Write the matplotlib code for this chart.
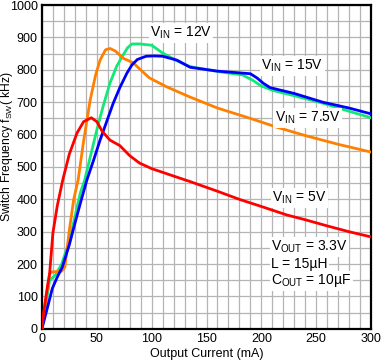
import matplotlib
matplotlib.use("Agg")
import matplotlib.pyplot as plt
from matplotlib.ticker import MultipleLocator

plt.rcParams['font.family'] = ['Liberation Sans', 'DejaVu Sans']
plt.rcParams['mathtext.fontset'] = 'custom'
plt.rcParams['mathtext.rm'] = 'Liberation Sans'
plt.rcParams['mathtext.it'] = 'Liberation Sans'

# Data (Output current mA, switching frequency kHz)
x_5v = [0, 2, 5, 7, 10, 14, 19, 25, 32, 38, 45, 50, 55, 62, 71, 80, 89, 100, 120, 135, 160, 180, 200, 223, 240, 260, 280, 300]
y_5v = [0, 60, 130, 170, 296, 380, 460, 540, 605, 640, 652, 640, 610, 583, 566, 535, 512, 495, 472, 455, 425, 400, 378, 352, 337, 318, 300, 284]

x_75v = [0, 4, 7, 9, 18, 21, 25, 29, 33, 38, 44, 49, 53, 58, 62, 67, 74, 83, 90, 98, 114, 135, 160, 190, 214, 240, 270, 300]
y_75v = [0, 100, 170, 176, 178, 192, 305, 400, 460, 580, 707, 785, 830, 862, 866, 858, 836, 822, 800, 775, 747, 716, 682, 650, 623, 597, 570, 546]

x_12v = [0, 3, 7, 12, 18, 25, 30, 35, 39, 44, 50, 56, 62, 68, 73, 78, 82, 89, 100, 110, 123, 135, 160, 183, 192, 200, 211, 230, 256, 280, 300]
y_12v = [0, 60, 150, 165, 200, 270, 345, 420, 460, 530, 614, 690, 759, 810, 840, 868, 880, 880, 876, 852, 828, 810, 795, 784, 768, 750, 736, 720, 697, 672, 652]

x_15v = [0, 5, 9.5, 14, 18.5, 25, 30, 36, 41, 47, 53, 59, 65, 71, 77.5, 82, 87, 95, 102, 110, 123, 135, 160, 190, 196, 202, 208, 230, 256, 280, 300]
y_15v = [0, 65, 125, 160, 190, 260, 325, 400, 460, 520, 583, 640, 697, 745, 790, 815, 832, 842, 843, 842, 830, 808, 796, 788, 775, 758, 745, 727, 700, 682, 664]

x_ticks = [0, 50, 100, 150, 200, 250, 300]
y_ticks = [0, 100, 200, 300, 400, 500, 600, 700, 800, 900, 1000]

fig = plt.figure(figsize=(3.81, 3.63), dpi=100)
ax = fig.add_axes([0.110, 0.094, 0.864, 0.892])

lw = 2.0
ax.plot(x_12v, y_12v, color='#10e878', lw=lw, zorder=3)
ax.plot(x_15v, y_15v, color='#0000ff', lw=lw, zorder=4)
ax.plot(x_75v, y_75v, color='#ff8000', lw=lw, zorder=3)
ax.plot(x_5v, y_5v, color='#ff0000', lw=lw, zorder=5)

ax.set_xlim(0, 300)
ax.set_ylim(0, 1000)
ax.set_xticks(x_ticks)
ax.set_yticks(y_ticks)
ax.xaxis.set_minor_locator(MultipleLocator(10))
ax.yaxis.set_minor_locator(MultipleLocator(50))
ax.grid(which='both', color='#b4b4b4', lw=0.9)
ax.set_axisbelow(True)
ax.tick_params(which='both', length=0, labelsize=9, pad=3, colors='black')
for s in ax.spines.values():
    s.set_linewidth(1.6)
    s.set_color('black')

ax.set_xlabel('Output Current (mA)', fontsize=9, labelpad=2)
fig.text(7.5 / 381, 1 - 147 / 363, r'Switch Frequency f$_\mathregular{SW}$( kHz)', fontsize=8.7,
         rotation=90, ha='center', va='center')

box = dict(facecolor='white', edgecolor='none', pad=1.0)
fs = 10
ax.text(98.5, 914, r'V$_\mathregular{IN}$ = 12V', fontsize=fs, va='center', ha='left', bbox=box, zorder=6)
ax.text(200, 812, r'V$_\mathregular{IN}$ = 15V', fontsize=fs, va='center', ha='left', bbox=box, zorder=6)
ax.text(212, 651, r'V$_\mathregular{IN}$ = 7.5V', fontsize=fs, va='center', ha='left', bbox=box, zorder=6)
ax.text(210, 404, r'V$_\mathregular{IN}$ = 5V', fontsize=fs, va='center', ha='left', bbox=box, zorder=6)
ax.text(209, 253, r'V$_\mathregular{OUT}$ = 3.3V', fontsize=fs, va='center', ha='left', bbox=box, zorder=6)
ax.text(209, 200, 'L = 15µH', fontsize=fs, va='center', ha='left', bbox=box, zorder=6)
ax.text(209, 148, r'C$_\mathregular{OUT}$ = 10µF', fontsize=fs, va='center', ha='left', bbox=box, zorder=6)

fig.savefig('out.png', dpi=100)
